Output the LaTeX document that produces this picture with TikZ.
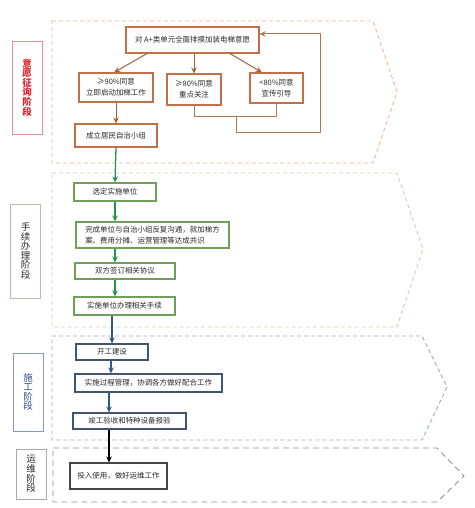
\documentclass[tikz,border=0pt]{standalone}
\usepackage{fontspec}
\setmainfont{Noto Sans CJK SC}
\usetikzlibrary{arrows.meta}
\definecolor{obox}{RGB}{196,112,70}
\definecolor{oarr}{RGB}{165,95,55}
\definecolor{ofb}{RGB}{170,120,85}
\definecolor{opent}{RGB}{245,180,145}
\definecolor{lone}{RGB}{235,140,150}
\definecolor{lonet}{RGB}{225,35,45}
\definecolor{gbox}{RGB}{110,160,90}
\definecolor{garr}{RGB}{30,150,80}
\definecolor{gpent}{RGB}{185,220,170}
\definecolor{ltwo}{RGB}{175,195,165}
\definecolor{bbox}{RGB}{65,85,115}
\definecolor{barr}{RGB}{55,85,135}
\definecolor{bpent}{RGB}{155,172,200}
\definecolor{lthree}{RGB}{140,155,180}
\definecolor{lthreet}{RGB}{45,75,135}
\definecolor{kpent}{RGB}{145,145,145}
\definecolor{kbox}{RGB}{70,70,70}
\definecolor{lfour}{RGB}{170,170,170}
\definecolor{txt}{RGB}{40,40,40}
\tikzset{
  boxbase/.style={draw, line width=1.1pt, inner sep=0pt, align=center, text=txt,
    font=\fontsize{7.5}{11}\selectfont},
  boxo/.style={boxbase, draw=obox},
  boxg/.style={boxbase, draw=gbox},
  boxb/.style={boxbase, draw=bbox},
  boxk/.style={boxbase, draw=kbox},
  lab/.style={draw, line width=0.9pt, inner sep=0pt, align=center, minimum width=30bp,
    font=\fontsize{9.5}{9.6}\selectfont},
  pent/.style={line width=0.9pt, dash pattern=on 4bp off 3bp},
  tip/.style={-{Stealth[length=6pt,width=5.5pt]}},
  arro/.style={tip, draw=oarr, line width=1pt},
  arrg/.style={tip, draw=garr, line width=1.3pt},
  arrb/.style={tip, draw=barr, line width=1.3pt},
  arrk/.style={tip, draw=black, line width=1.3pt},
  fbline/.style={draw=ofb, line width=1pt},
}
\begin{document}
\begin{tikzpicture}[x=1bp,y=-1bp]
\useasboundingbox (0,0) rectangle (475,508);
% stage outlines
\draw[pent, draw=opent] (52,21) -- (373,21) -- (397,92) -- (373,163) -- (52,163) -- cycle;
\draw[pent, draw=gpent] (52,173) -- (397,173) -- (423,249) -- (397,327) -- (52,327) -- cycle;
\draw[pent, draw=bpent] (52,336) -- (422,336) -- (447,387) -- (422,440) -- (52,440) -- cycle;
\draw[line width=0.9pt, dash pattern=on 6bp off 4bp, draw=kpent] (53,448) -- (437,448) -- (464,476) -- (437,502) -- (53,502) -- cycle;
% stage labels
\node[lab, draw=lone, text=lonet, minimum height=93bp, font=\fontsize{9.5}{9.6}\selectfont\bfseries] (l1) at (27,87.5) {意\\愿\\征\\询\\阶\\段};
\node[lab, draw=ltwo, text=txt, minimum height=94bp] (l2) at (25.5,251) {手\\续\\办\\理\\阶\\段};
\node[lab, draw=lthree, text=lthreet, minimum height=78bp] (l3) at (28,392) {施\\工\\阶\\段};
\node[lab, draw=lfour, text=txt, minimum height=50bp] (l4) at (31,474) {运\\维\\阶\\段};
% stage 1
\node[boxo, minimum width=133bp, minimum height=26bp] (top) at (192.5,40) {对 A+类单元全面排摸加装电梯意愿};
\node[boxo, minimum width=74bp, minimum height=29bp] (g90) at (116,87.5) {≥90\%同意\\立即启动加梯工作};
\node[boxo, minimum width=54bp, minimum height=31bp] (g80) at (194,89.5) {≥80\%同意\\重点关注};
\node[boxo, minimum width=53bp, minimum height=30bp] (l80) at (276.5,88) {<80\%同意\\宣传引导};
\node[boxo, minimum width=82bp, minimum height=23bp] (zz) at (116,135.5) {成立居民自治小组};
\draw[arro] ([xshift=-45.5bp]top.south) -- ([xshift=-2bp]g90.north);
\draw[arro] (top.south -| g80.north) -- (g80.north);
\draw[arro] ([xshift=37.5bp]top.south) -- ([xshift=-14.5bp]l80.north);
\draw[arro] (g90.south) -- (zz.north);
\coordinate (j) at (236,116.5);
\coordinate (k) at (320,132);
\draw[fbline] (g80.south) |- (j) -| (l80.south);
\draw[fbline, tip] (j) |- (k) |- ([yshift=6bp]top.east);
% stage 2
\node[boxg, minimum width=82bp, minimum height=18bp] (s2a) at (115,192) {选定实施单位};
\node[boxg, minimum width=153bp, minimum height=26bp, align=left] (s2b) at (152.5,235) {完成单位与自治小组反复沟通，就加梯方\\案、费用分摊、运营管理等达成共识};
\node[boxg, minimum width=100bp, minimum height=16bp] (s2c) at (125,271) {双方签订相关协议};
\node[boxg, minimum width=101bp, minimum height=18bp] (s2d) at (124.5,306) {实施单位办理相关手续};
\draw[arrg] (zz.south) -- (s2a.north);
\draw[arrg] (s2a.south) -- (s2a.south |- s2b.north);
\draw[arrg] (s2b.south -| s2a.south) -- (s2c.north -| s2a.south);
\draw[arrg] (s2c.south -| s2a.south) -- (s2d.north -| s2a.south);
% stage 3
\node[boxb, minimum width=72bp, minimum height=16bp] (s3a) at (112,352) {开工建设};
\node[boxb, minimum width=147bp, minimum height=18bp] (s3b) at (148.5,383) {实施过程管理，协调各方做好配合工作};
\node[boxb, minimum width=113bp, minimum height=16bp] (s3c) at (129.5,421) {竣工验收和特种设备报验};
\coordinate (c3) at ([xshift=-20.5bp]s3c.north);
\coordinate (c4) at ([xshift=-20.5bp]s3c.south);
\coordinate (c2) at ([xshift=-1bp]s3a.south);
\draw[arrb] (s2d.south -| s3a.north) -- (s3a.north);
\draw[arrb] (c2) -- (c2 |- s3b.north);
\draw[arrb] (s3b.south -| c3) -- (c3);
% stage 4
\node[boxk, minimum width=97bp, minimum height=26bp] (s4a) at (118.5,476) {投入使用，做好运维工作};
\draw[arrk] (c4) -- (c4 |- s4a.north);
\end{tikzpicture}
\end{document}
